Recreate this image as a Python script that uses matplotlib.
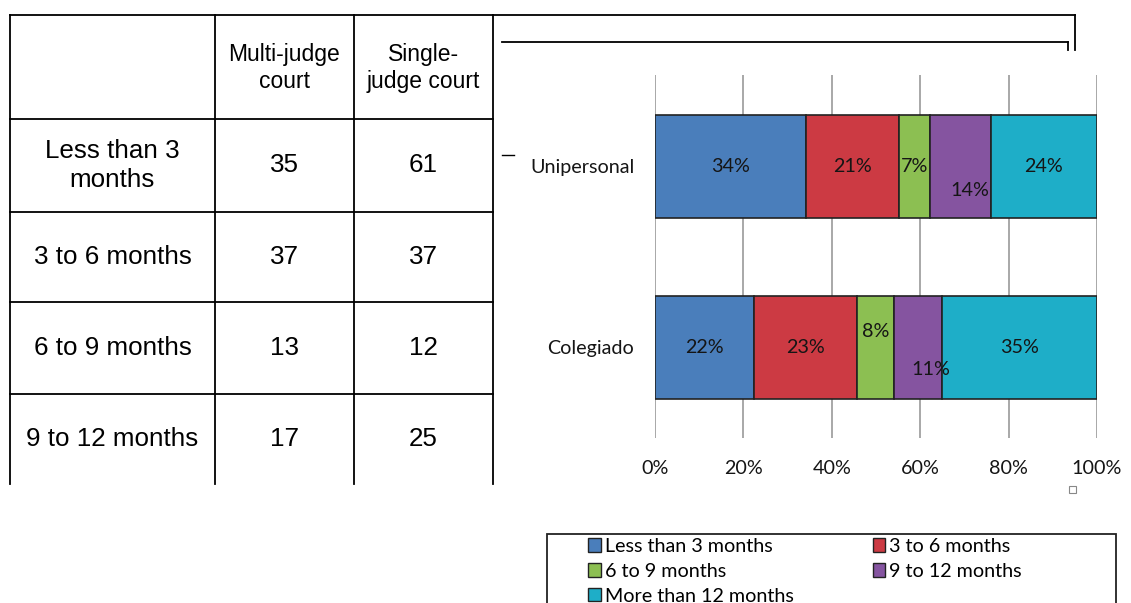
import numpy as np
import matplotlib.pyplot as plt
from matplotlib.lines import Line2D
from matplotlib.patches import Patch, Rectangle

# table data
row_labels = ['Less than 3\nmonths', '3 to 6 months', '6 to 9 months', '9 to 12 months']
col_labels = ['Multi-judge\ncourt', 'Single-\njudge court']
multi_judge = [35, 37, 13, 17]
single_judge = [61, 37, 12, 25]

# chart data (percent)
courts = ['Colegiado', 'Unipersonal']
series = ['Less than 3 months', '3 to 6 months', '6 to 9 months', '9 to 12 months', 'More than 12 months']
colegiado = [22.4, 23.4, 8.2, 10.9, 35.1]
unipersonal = [34.2, 21.1, 6.9, 13.8, 24.0]
colors = ['#4a7ebb', '#cc3a43', '#8cbf52', '#8554a0', '#1eaec8']

W, H = 1131, 603
fig = plt.figure(figsize=(W / 100, H / 100), dpi=100)

def fx(x):
    return x / W

def fy(y):
    return 1 - y / H

def fline(x0, y0, x1, y1, lw=1.3):
    fig.add_artist(Line2D([fx(x0), fx(x1)], [fy(y0), fy(y1)], color='black', lw=lw))

# table grid
col_x = [10, 215, 354, 493]
row_y = [15, 119, 212, 302, 394, 484]
for x in col_x:
    fline(x, 15, x, 484)
for y in row_y[:-1]:
    fline(10, y, 493, y)

tfont = dict(family='Liberation Sans', ha='center', va='center', color='black')
cx = [(col_x[i] + col_x[i + 1]) / 2 for i in range(3)]
for j, lab in enumerate(col_labels):
    fig.text(fx(cx[j + 1]), fy(68), lab, fontsize=16.5, linespacing=1.2, **tfont)
for i, lab in enumerate(row_labels):
    yc = (row_y[i + 1] + row_y[i + 2]) / 2
    fig.text(fx(cx[0]), fy(yc), lab, fontsize=18.7, linespacing=1.3, **tfont)
    fig.text(fx(cx[1]), fy(yc), str(multi_judge[i]), fontsize=18.7, **tfont)
    fig.text(fx(cx[2]), fy(yc), str(single_judge[i]), fontsize=18.7, **tfont)

# frame lines around chart
fline(493, 15, 1075, 15)
fline(1075, 15, 1075, 50)
fline(502, 42, 1068, 42)
fline(1068, 42, 1068, 50)
fline(502, 155, 514, 155, lw=1.0)
fig.add_artist(Rectangle((fx(1069), fy(493)), 7 / W, 7 / H, facecolor='white',
                         edgecolor='#888888', lw=0.8))

# stacked bar chart
ax = fig.add_axes([fx(655), fy(438), fx(1097) - fx(655), (438 - 75) / H])
data = np.array([colegiado, unipersonal])
ypos = np.arange(len(courts))
left = np.zeros(len(courts))
cfont = dict(family='Lato', fontsize=14.2, color='#151515')
offsets = {(1, 3): (2.2, -0.133), (0, 2): (0, 0.086), (0, 3): (3.0, -0.124)}
for k, name in enumerate(series):
    vals = data[:, k]
    ax.barh(ypos, vals, left=left, height=0.57, color=colors[k], edgecolor='#222222',
            linewidth=1.2, label=name, zorder=3)
    for r in range(len(courts)):
        dx, dy = offsets.get((r, k), (0, 0))
        ax.text(left[r] + vals[r] / 2 + dx, ypos[r] + dy, '%d%%' % round(vals[r]),
                ha='center', va='center', zorder=4, **cfont)
    left += vals

ax.set_xlim(0, 100)
ax.set_ylim(-0.5, 1.503)
ax.set_xticks(np.arange(0, 101, 20))
ax.set_xticklabels(['%d%%' % v for v in range(0, 101, 20)], **cfont)
ax.set_yticks(ypos)
ax.set_yticklabels(courts, **cfont)
ax.tick_params(axis='y', length=0, pad=15)
ax.tick_params(axis='x', length=0, pad=16)
for s in ax.spines.values():
    s.set_visible(False)
ax.grid(axis='x', color='#999999', lw=1.2, zorder=0)

# legend (box runs past the bottom edge)
fig.add_artist(Rectangle((fx(547), fy(650)), (1116 - 547) / W, (650 - 534) / H,
                         facecolor='none', edgecolor='#222222', lw=1.3))
handles = [Patch(facecolor=c, edgecolor='#222222', label=s) for c, s in zip(colors, series)]
order = [0, 2, 4, 1, 3]
fig.legend([handles[i] for i in order], [series[i] for i in order], ncol=2,
           loc='upper left', bbox_to_anchor=(fx(588), fy(538)),
           prop=dict(family='Lato', size=14.2), frameon=False,
           handlelength=0.65, handleheight=0.65, handletextpad=0.2,
           columnspacing=4.0, labelspacing=0.4, borderpad=0, borderaxespad=0)

fig.savefig('out.png', dpi=100)
